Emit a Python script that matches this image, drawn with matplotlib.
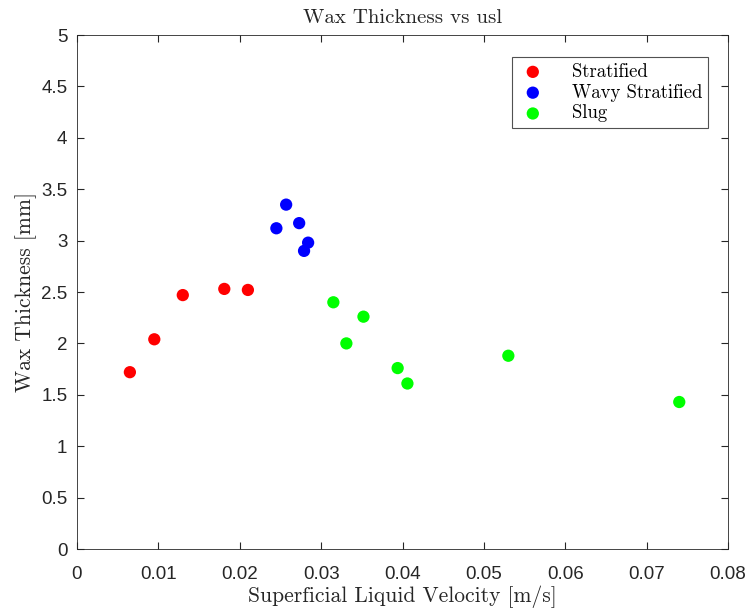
import numpy as np
import matplotlib.pyplot as plt

## Datos
strat_x = [0.0065, 0.0095, 0.0130, 0.0181, 0.0210]
strat_y = [1.72, 2.04, 2.47, 2.53, 2.52]
wavy_x  = [0.0245, 0.0257, 0.0273, 0.0284, 0.0279]
wavy_y  = [3.12, 3.35, 3.17, 2.98, 2.90]
slug_x  = [0.0315, 0.0352, 0.0331, 0.0394, 0.0406, 0.0530, 0.0740]
slug_y  = [2.40, 2.26, 2.00, 1.76, 1.61, 1.88, 1.43]

xticks = np.arange(0, 0.081, 0.01)
yticks = np.arange(0, 5.01, 0.5)
xlabels = ['0', '0.01', '0.02', '0.03', '0.04', '0.05', '0.06', '0.07', '0.08']
ylabels = ['0', '0.5', '1', '1.5', '2', '2.5', '3', '3.5', '4', '4.5', '5']

fig = plt.figure(figsize=(7.51, 6.13), dpi=100)
ax = fig.add_axes([0.1025, 0.1044, 0.867, 0.8385])

ms = 78
ax.scatter(strat_x, strat_y, s=ms, c='#ff0000', label='Stratified', edgecolors='none')
ax.scatter(wavy_x, wavy_y, s=ms, c='#0000ff', label='Wavy Stratified', edgecolors='none')
ax.scatter(slug_x, slug_y, s=ms, c='#00ff00', label='Slug', edgecolors='none')

ax.set_xlim(0, 0.08)
ax.set_ylim(0, 5)
ax.set_xticks(xticks)
ax.set_xticklabels(xlabels)
ax.set_yticks(yticks)
ax.set_yticklabels(ylabels)
ax.tick_params(direction='in', length=5, labelsize=13.5, colors='#262626',
               top=True, right=True, labeltop=False, labelright=False)
ax.tick_params(axis='x', pad=12)
ax.tick_params(axis='y', pad=7)
for lbl in ax.get_xticklabels() + ax.get_yticklabels():
    lbl.set_fontname('Liberation Sans')
for sp in ax.spines.values():
    sp.set_color('#262626')
    sp.set_linewidth(0.6)

ax.set_title('Wax Thickness vs usl', fontname='cmr10', fontsize=15, color='#262626', pad=9)
ax.set_xlabel('Superficial Liquid Velocity [m/s]', fontname='cmr10', fontsize=15.5, color='#262626', labelpad=2)
ax.set_ylabel('Wax Thickness [mm]', fontname='cmr10', fontsize=15.5, color='#262626', labelpad=3)

leg = ax.legend(loc='upper right', bbox_to_anchor=(0.984, 0.975), fancybox=False,
                prop={'family': 'cmr10', 'size': 13.5}, handletextpad=1.3,
                borderpad=0.3, labelspacing=0.15, handlelength=1.6, markerscale=1.0)
leg.get_frame().set_edgecolor('#262626')
leg.get_frame().set_linewidth(0.8)

fig.savefig('out.png', dpi=100)
